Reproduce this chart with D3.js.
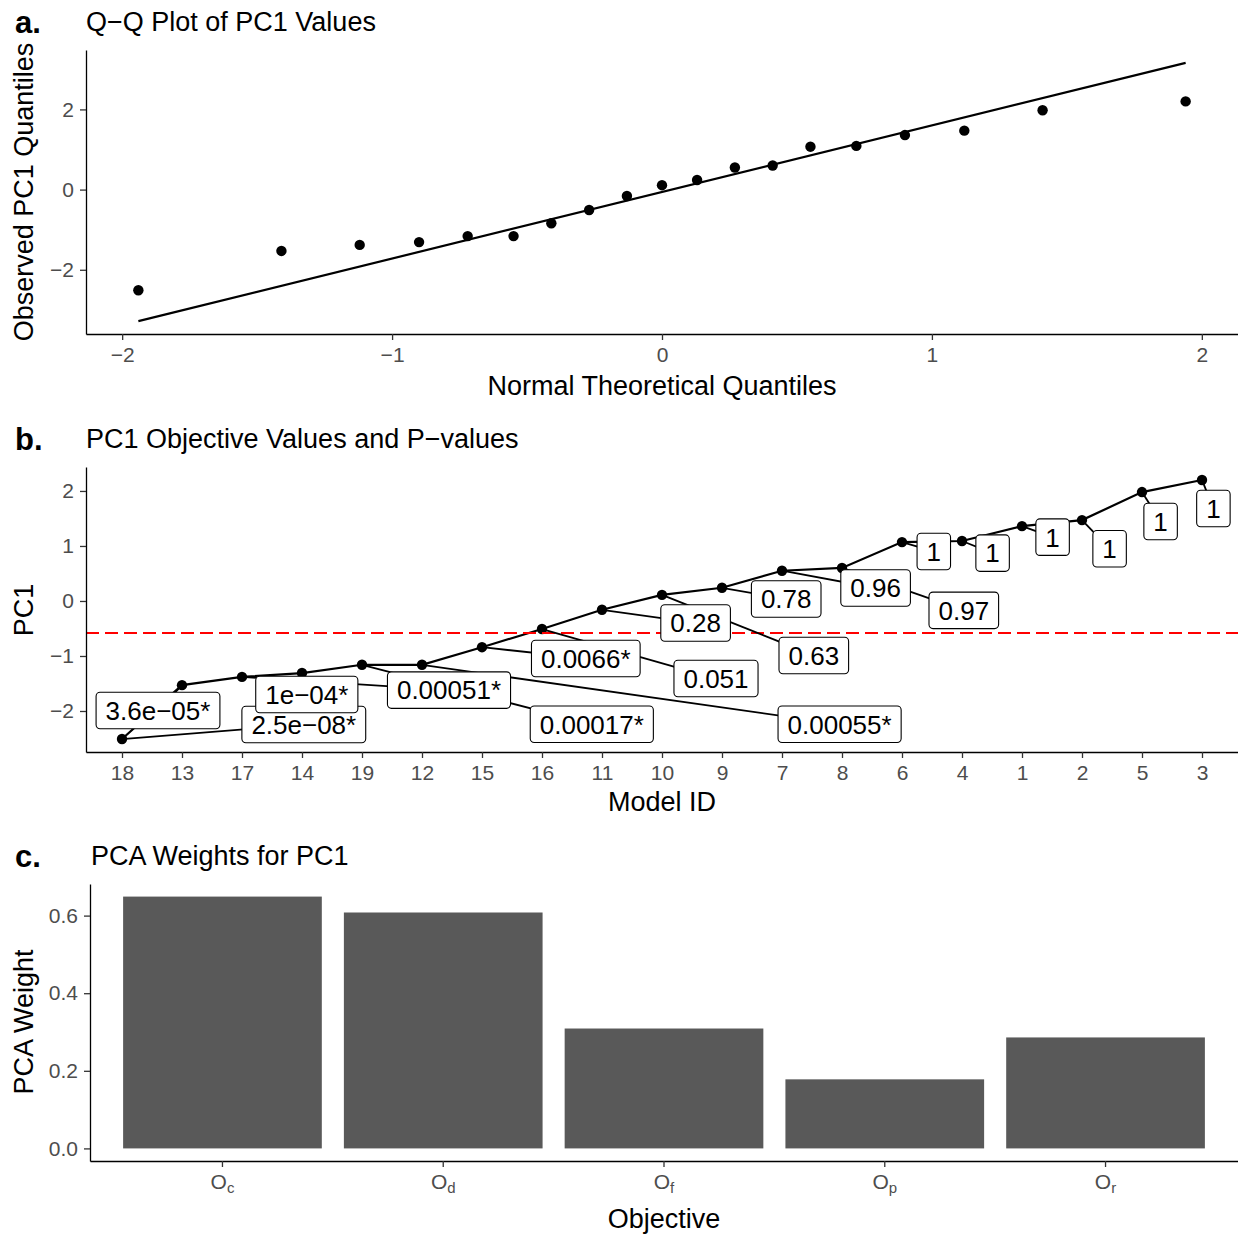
<!DOCTYPE html>
<html>
<head>
<meta charset="utf-8">
<script src="https://cdn.jsdelivr.net/npm/d3@7"></script>
<style>
  body { margin: 0; background: #fff; }
  text { font-family: "Liberation Sans", Arial, Helvetica, sans-serif; }
</style>
</head>
<body>
<div id="chart"></div>
<script>
// ---- data ----
// panel a: Q-Q points and reference line
var theoQ = [-1.94, -1.41, -1.12, -0.90, -0.72, -0.55, -0.41, -0.27, -0.13, 0.00,
             0.13, 0.27, 0.41, 0.55, 0.72, 0.90, 1.12, 1.41, 1.94];
var obsQ = [-2.51, -1.53, -1.38, -1.31, -1.16, -1.16, -0.84, -0.51, -0.16, 0.11,
            0.24, 0.55, 0.60, 1.07, 1.09, 1.36, 1.47, 1.98, 2.20];
var qqLineX = [-1.94, 1.94];
var qqLineY = [-3.28, 3.16];

// panel b: models sorted by PC1, with p-value labels
var modelIds = ["18", "13", "17", "14", "19", "12", "15", "16", "11", "10", "9", "7", "8", "6", "4", "1", "2", "5", "3"];
var pc1 = [-2.51, -1.53, -1.38, -1.31, -1.16, -1.16, -0.84, -0.51, -0.16, 0.11,
           0.24, 0.55, 0.60, 1.07, 1.09, 1.36, 1.47, 1.98, 2.20];
var pLabels = ["2.5e\u221208*", "3.6e\u221205*", "0.00051*", "1e\u221204*", "0.00017*", "0.00055*",
               "0.0066*", "0.051", "0.28", "0.63", "0.78", "0.96", "0.97", "1", "1", "1", "1", "1", "1"];
// where the repelled labels ended up (category index, PC1 units)
var labelIdx = [3.03, 0.60, 5.45, 3.08, 7.83, 11.96, 7.73, 9.90, 9.56, 11.53,
                11.07, 12.56, 14.03, 13.53, 14.51, 15.51, 16.46, 17.31, 18.19];
var labelVal = [-2.245, -1.99, -1.62, -1.70, -2.24, -2.24, -1.045, -1.41, -0.40, -0.99,
                0.036, 0.236, -0.17, 0.90, 0.87, 1.16, 0.95, 1.445, 1.68];
var cutoff = -0.58;

// panel c: PCA weights
var objectives = ["c", "d", "f", "p", "r"];
var weights = [0.649, 0.608, 0.309, 0.178, 0.286];

var W = 1238, H = 1234;
var svg = d3.select("#chart").append("svg")
    .attr("width", W)
    .attr("height", H);

var intFmt = d3.format("d");

function expand(ext, f) {
    var d = (ext[1] - ext[0]) * f;
    return [ext[0] - d, ext[1] + d];
}

function styleAxis(g) {
    g.select(".domain").attr("stroke", "#000").attr("stroke-width", 1.3);
    g.selectAll(".tick line").attr("stroke", "#333").attr("stroke-width", 1.3);
    g.selectAll(".tick text").attr("fill", "#4d4d4d").style("font-size", "21px");
}

function titles(tag, title, tagY, titleX) {
    svg.append("text").attr("x", 15).attr("y", tagY)
        .style("font-size", "31px").style("font-weight", "bold").text(tag);
    svg.append("text").attr("x", titleX).attr("y", tagY - 2)
        .style("font-size", "27px").text(title);
}

function axisTitles(xt, xx, xy, yt, yy) {
    svg.append("text").attr("x", xx).attr("y", xy)
        .attr("text-anchor", "middle").style("font-size", "27px").text(xt);
    svg.append("text")
        .attr("transform", "translate(33," + yy + ") rotate(-90)")
        .attr("text-anchor", "middle").style("font-size", "27px").text(yt);
}

// ================= panel a =================
var ax = d3.scaleLinear().domain(expand(d3.extent(theoQ), 0.05)).range([86, 1238]);
var ay = d3.scaleLinear().domain(expand(d3.extent(obsQ.concat(qqLineY)), 0.05)).range([334, 50]);

titles("a.", "Q\u2212Q Plot of PC1 Values", 33, 86);

svg.append("path")
    .datum(qqLineX.map(function(x, i) { return [x, qqLineY[i]]; }))
    .attr("fill", "none").attr("stroke", "#000").attr("stroke-width", 2.2)
    .attr("d", d3.line().x(function(d) { return ax(d[0]); }).y(function(d) { return ay(d[1]); }));

svg.append("g").selectAll("circle")
    .data(theoQ)
    .enter().append("circle")
    .attr("cx", function(d) { return ax(d); })
    .attr("cy", function(d, i) { return ay(obsQ[i]); })
    .attr("r", 5.2)
    .attr("fill", "#000");

svg.append("g").attr("transform", "translate(0,334)")
    .call(d3.axisBottom(ax).tickValues([-2, -1, 0, 1, 2]).tickFormat(intFmt)
        .tickSize(6).tickSizeOuter(0).tickPadding(7))
    .call(styleAxis);
svg.append("g").attr("transform", "translate(86,0)")
    .call(d3.axisLeft(ay).tickValues([-2, 0, 2]).tickFormat(intFmt)
        .tickSize(6).tickSizeOuter(0).tickPadding(6))
    .call(styleAxis);

axisTitles("Normal Theoretical Quantiles", 662, 395, "Observed PC1 Quantiles", 192);

// ================= panel b =================
var bx = d3.scalePoint().domain(modelIds).range([86, 1238]).padding(0.6);
var by = d3.scaleLinear().domain(expand(d3.extent(pc1), 0.05)).range([752, 467]);
var step = bx.step();
function idxX(i) { return bx(modelIds[0]) + i * step; }

titles("b.", "PC1 Objective Values and P\u2212values", 450, 86);

svg.append("path")
    .datum(modelIds)
    .attr("fill", "none").attr("stroke", "#000").attr("stroke-width", 2.2)
    .attr("d", d3.line().x(function(d) { return bx(d); }).y(function(d, i) { return by(pc1[i]); }));

svg.append("g").selectAll("circle")
    .data(modelIds)
    .enter().append("circle")
    .attr("cx", function(d) { return bx(d); })
    .attr("cy", function(d, i) { return by(pc1[i]); })
    .attr("r", 5.2)
    .attr("fill", "#000");

svg.append("line")
    .attr("x1", 86).attr("x2", 1238)
    .attr("y1", by(cutoff)).attr("y2", by(cutoff))
    .attr("stroke", "#ff0000").attr("stroke-width", 2)
    .attr("stroke-dasharray", "13,6");

// repelled labels: segment from point, then boxed text on top
var segG = svg.append("g");
var lblG = svg.append("g");
pLabels.forEach(function(lab, i) {
    var cx = idxX(labelIdx[i]), cy = by(labelVal[i]);
    var g = lblG.append("g");
    var t = g.append("text")
        .attr("x", cx).attr("y", cy)
        .attr("dy", "0.36em")
        .attr("text-anchor", "middle")
        .style("font-size", "26px")
        .text(lab);
    var tw = t.node().getComputedTextLength();
    var bw = tw + 19, bh = 36.5;
    g.insert("rect", "text")
        .attr("x", cx - bw / 2).attr("y", cy - bh / 2)
        .attr("width", bw).attr("height", bh)
        .attr("rx", 4).attr("ry", 4)
        .attr("fill", "#fff").attr("stroke", "#000").attr("stroke-width", 1.1);

    // distance from point to box edge along the centre line
    var px = bx(modelIds[i]), py = by(pc1[i]);
    var dx = px - cx, dy = py - cy;
    var s = Math.max(Math.abs(dx) / (bw / 2), Math.abs(dy) / (bh / 2));
    var gap = s > 1 ? Math.sqrt(dx * dx + dy * dy) * (1 - 1 / s) : 0;
    if (gap > 8) {
        segG.append("line")
            .attr("x1", px).attr("y1", py)
            .attr("x2", cx).attr("y2", cy)
            .attr("stroke", "#000").attr("stroke-width", 1.8);
    }
});

svg.append("g").attr("transform", "translate(0,752)")
    .call(d3.axisBottom(bx).tickSize(6).tickSizeOuter(0).tickPadding(7))
    .call(styleAxis);
svg.append("g").attr("transform", "translate(86,0)")
    .call(d3.axisLeft(by).tickValues([-2, -1, 0, 1, 2]).tickFormat(intFmt)
        .tickSize(6).tickSizeOuter(0).tickPadding(6))
    .call(styleAxis);

axisTitles("Model ID", 662, 811, "PC1", 610);

// ================= panel c =================
var cx = d3.scaleBand().domain(objectives).range([90, 1238]).paddingInner(0.1).paddingOuter(0.15);
var cy = d3.scaleLinear().domain(expand([0, d3.max(weights)], 0.05)).range([1161, 884]);

titles("c.", "PCA Weights for PC1", 867, 91);

svg.append("g").selectAll("rect")
    .data(objectives)
    .enter().append("rect")
    .attr("x", function(d) { return cx(d); })
    .attr("width", cx.bandwidth())
    .attr("y", function(d, i) { return cy(weights[i]); })
    .attr("height", function(d, i) { return cy(0) - cy(weights[i]); })
    .attr("fill", "#595959");

var cxAxis = svg.append("g").attr("transform", "translate(0,1161)")
    .call(d3.axisBottom(cx).tickSize(6).tickSizeOuter(0).tickPadding(7).tickFormat(""))
    .call(styleAxis);
cxAxis.selectAll(".tick text").each(function(d) {
    var t = d3.select(this);
    t.append("tspan").text("O");
    t.append("tspan").attr("dy", "4").style("font-size", "15px").text(d);
});
svg.append("g").attr("transform", "translate(90,0)")
    .call(d3.axisLeft(cy).tickValues([0, 0.2, 0.4, 0.6]).tickFormat(d3.format(".1f"))
        .tickSize(6).tickSizeOuter(0).tickPadding(6))
    .call(styleAxis);

axisTitles("Objective", 664, 1228, "PCA Weight", 1022);
</script>
</body>
</html>
